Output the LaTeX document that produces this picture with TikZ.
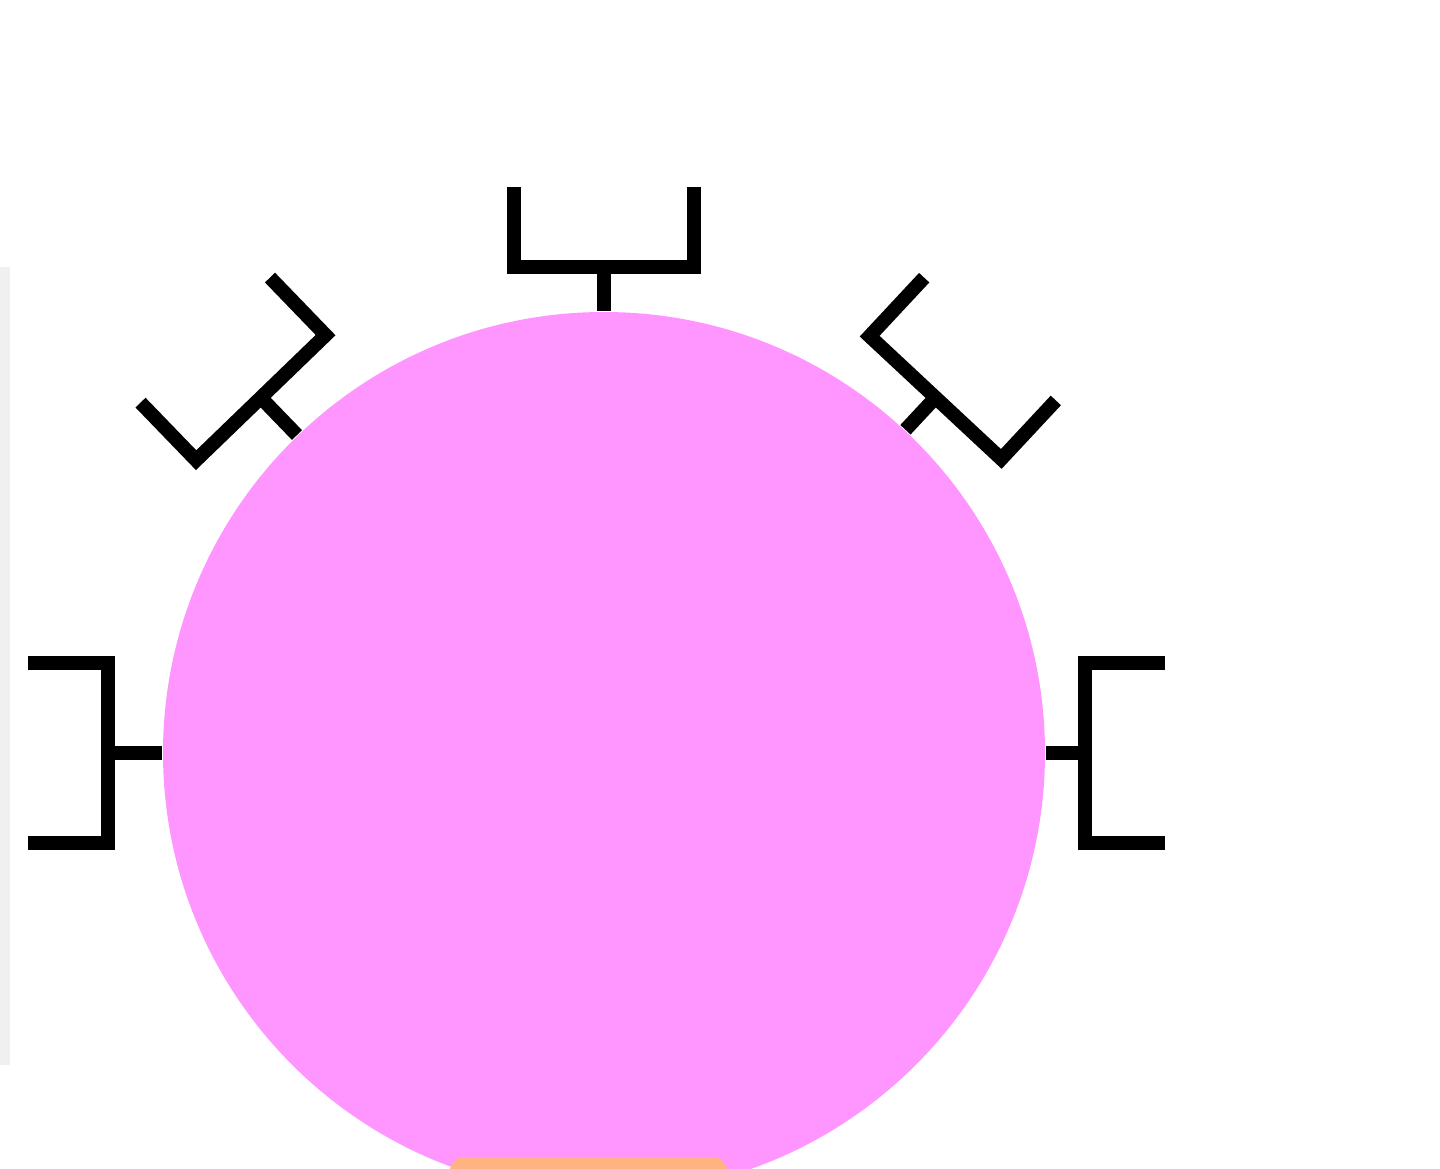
\documentclass[tikz,border=0pt]{standalone}
\definecolor{cellpink}{RGB}{255,150,255}
\definecolor{cellorange}{RGB}{255,178,130}
\tikzset{receptor/.style={black,line width=0.14cm}}
\begin{document}
\begin{tikzpicture}
\useasboundingbox (0,0) rectangle (14.4,11.68);
\clip (0,0) rectangle (14.4,11.68);
\fill[gray!12] (0,1.03) rectangle (0.1,9.01);
\fill[cellpink] (6.04,4.15) circle (4.41);
\fill[cellorange,rounded corners=4pt] (4.5,-0.3) rectangle (7.27,0.11);
% receptors round the cell
\foreach \a/\r in {0/4.81,47/4.86,90/4.86,134/4.94,180/4.96}
  \draw[receptor,shift={(6.04,4.15)},rotate=\a]
    (4.42,0) -- (\r,0)
    (\r+0.8,0.9) -- (\r,0.9) -- (\r,-0.9) -- (\r+0.8,-0.9);
\end{tikzpicture}
\end{document}
